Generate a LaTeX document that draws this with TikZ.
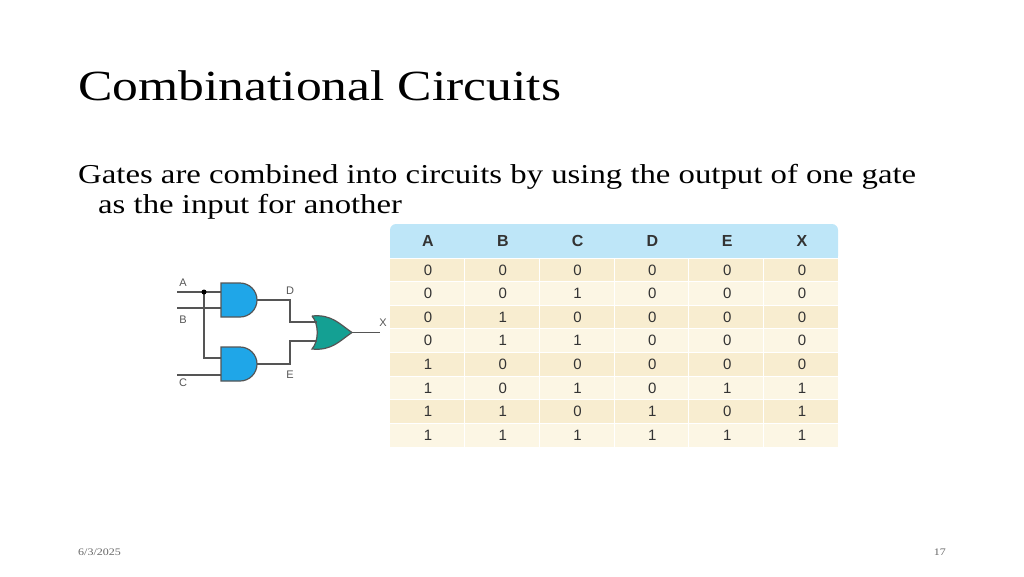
\documentclass[tikz,border=0pt]{standalone}
\usepackage{fontspec}
\setmainfont{Liberation Serif}[FakeStretch=1.2]
\setsansfont{Liberation Sans}
\usetikzlibrary{calc}
\definecolor{andblue}{HTML}{1FA6E8}
\definecolor{orteal}{HTML}{14A093}
\definecolor{headblue}{HTML}{BEE6F8}
\definecolor{rowdark}{HTML}{F8EDD0}
\definecolor{rowlight}{HTML}{FCF6E4}
\definecolor{wire}{HTML}{555555}
\tikzset{
  wireline/.style={draw=wire, line width=1.2pt},
  pinlabel/.style={font=\sffamily\fontsize{11}{11}\selectfont, text=wire, inner sep=0pt},
  cell/.style={font=\sffamily\fontsize{15}{15}\selectfont, text=black!80, inner sep=0pt},
}
\begin{document}
\begin{tikzpicture}[x=1pt,y=-1pt]
	\useasboundingbox (0,0) rectangle (1024,576);
	
	%Title and text
	\node[anchor=base west, inner sep=0pt, font=\fontsize{43}{43}\selectfont] (title) at (78,100) {Combinational Circuits};
	\node[anchor=base west, inner sep=0pt, font=\fontsize{27.3}{27.3}\selectfont] (line1) at (78,183) {Gates are combined into circuits by using the output of one gate};
	\node[anchor=base west, inner sep=0pt, font=\fontsize{27.3}{27.3}\selectfont] (line2) at (98,213) {as the input for another};
	
	%Truth table
	\fill[headblue, rounded corners=6pt] (390,224) rectangle (838,262);
	\fill[headblue] (390,245) rectangle (838,258);
	\foreach \r in {0,...,7}{
		\pgfmathsetmacro{\ytop}{258+\r*23.6}
		\ifodd\r \def\rowc{rowlight}\else\def\rowc{rowdark}\fi
		\fill[\rowc] (390,\ytop) rectangle (838,\ytop+23.6);
		\draw[white, line width=1pt] (390,\ytop) -- (838,\ytop);
	}
	\foreach \c in {1,...,5}
		\draw[white, line width=1pt] (390+\c*74.7,258) -- (390+\c*74.7,447);
	\foreach \h [count=\i from 0] in {A,B,C,D,E,X}
		\node[cell, font=\sffamily\bfseries\fontsize{16}{16}\selectfont] (head\h) at (428+\i*74.8,241) {\h};
	\foreach \row [count=\r from 0] in {{0,0,0,0,0,0},{0,0,1,0,0,0},{0,1,0,0,0,0},{0,1,1,0,0,0},{1,0,0,0,0,0},{1,0,1,0,1,1},{1,1,0,1,0,1},{1,1,1,1,1,1}}{
		\foreach \v [count=\i from 0] in \row
			\node[cell] (c\r\i) at (428+\i*74.8,270+\r*23.6) {\v};
	}
	
	%Gates
	\coordinate (and1) at (221,283);
	\coordinate (and2) at (221,347);
	\coordinate (or1) at (312,316);
	\draw[wireline, fill=andblue] (and1) -- ++(19,0) arc[start angle=-90, end angle=90, radius=17] -- ++(-19,0) -- cycle;
	\draw[wireline, fill=andblue] (and2) -- ++(19,0) arc[start angle=-90, end angle=90, radius=17] -- ++(-19,0) -- cycle;
	\draw[wireline, fill=orteal] (or1) .. controls ++(20,-2) and ++(-12,-8) .. ++(40,16.5)
		.. controls ++(-12,8) and ++(20,2) .. ++(-40,16.5)
		.. controls ++(7,-8) and ++(7,8) .. (or1);
	
	%Inputs
	\node[pinlabel] (labA) at (183,283) {A};
	\node[pinlabel] (labB) at (183,320) {B};
	\node[pinlabel] (labC) at (183,383) {C};
	\coordinate (dot) at (204,292);
	\draw[wireline] (177,292) -- (221,292);
	\draw[wireline] (177,308) -- (221,308);
	\draw[wireline] (177,375) -- (221,375);
	\draw[wireline] (dot) -- (204,358) -- (221,358);
	\fill[black] (dot) circle (2.5);
	
	%Outputs
	\node[pinlabel] (labD) at (290,291) {D};
	\node[pinlabel] (labE) at (290,375) {E};
	\node[pinlabel] (labX) at (383,323) {X};
	\draw[wireline] (257,300) -- (290,300) -- (290,322) -- (317,322);
	\draw[wireline] (257,364) -- (290,364) -- (290,341) -- (317,341);
	\draw[wireline] (352,332.5) -- (380,332.5);
	
	%Footer
	\node[anchor=base west, inner sep=0pt, font=\fontsize{10}{10}\selectfont, text=black!60] (date) at (78,555) {6/3/2025};
	\node[anchor=base east, inner sep=0pt, font=\fontsize{10}{10}\selectfont, text=black!60] (page) at (946,555) {17};
\end{tikzpicture}
\end{document}
